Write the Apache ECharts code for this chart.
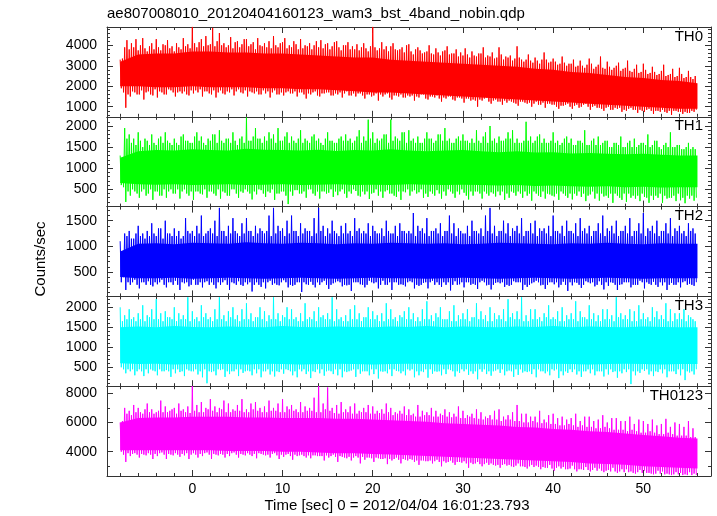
<!DOCTYPE html>
<html><head><meta charset="utf-8">
<script src="https://cdn.jsdelivr.net/npm/echarts@6/dist/echarts.min.js"></script>
<style>html,body{margin:0;padding:0;background:#fff}#c{width:717px;height:516px}</style>
</head><body><div id="c"></div>
<script>
const titleText = 'ae807008010_20120404160123_wam3_bst_4band_nobin.qdp';
const xLabel = 'Time [sec] 0 = 2012/04/04 16:01:23.793';
const yLabel = 'Counts/sec';

// time bins: start and width (sec); each bin has a high and a low excursion
const tStart = -8, dt = 0.25;
// dense core band, sampled every 2 s
const coreStart = -8, coreStep = 2;
const xMin = -9.46, xMax = 57.5;
const xTicks = [0, 10, 20, 30, 40, 50];
const xMinorStep = 2;

const th0Hi = [
  3300,3350,3900,4250, 3800,4100,3900,4300, 3750,4000,4350,3850, 3700,3950,4100,3800, 4300,3900,3750,4050, 4000,4250,3850,3950, 3700,4100,3900,3800, 4350,3950,4050,3850,
  4900,4100,3900,4150, 4300,3950,4450,4000, 4050,4850,3950,4200, 4600,4000,4100,3900, 4000,4400,3850,4150, 4200,3900,4050,4300, 4300,3950,4050,4150, 3800,4350,4000,3950,
  4100,3900,4200,3850, 4450,4000,3900,4100, 4150,4350,3850,4000, 3900,4200,4050,3800, 4300,3850,4000,3950, 4100,3800,4000,4200, 3900,4250,3850,4050, 4100,3800,3950,4150,
  4200,3900,3750,4000, 4000,4150,3800,3950, 3800,4050,3750,3900, 4100,3850,3700,3950, 4900,3900,3750,3850, 4150,3800,3950,3700, 3950,4100,3800,3750, 3800,3900,3650,4000,
  4050,3700,3550,3800, 3900,3750,3600,3650, 3700,4000,3600,3550, 3850,3650,3500,3700, 3750,3950,3550,3600, 3600,3800,3450,3650, 3500,3850,3550,3400, 3700,3500,3450,3600,
  3600,3900,3400,3500, 3450,3650,3350,3400, 3900,3550,3300,3450, 3400,3500,3250,3350, 3950,3400,3300,3200, 3300,3550,3250,3150, 3400,3250,3100,3300, 3650,3300,3150,3200,
  3350,3200,3050,3100, 3450,3150,3000,3100, 3100,3300,2950,3000, 3250,3000,2900,3050, 3350,3100,2850,2950, 3050,3450,2900,2850, 3200,2950,2800,2900, 3000,3150,2750,2850,
  2900,3250,2750,2700, 2850,3050,2650,2700, 3100,2800,2600,2650, 2950,2700,2550,2600, 2750,3050,2500,2550, 2600,2850,2450,2500, 2900,2600,2400,2450, 2750,2450,2350,2500];
const th0Lo = [
  1900,1700,950,1600, 1500,1750,1700,1600, 1600,1800,1350,1700, 1750,1600,1550,1850, 1450,1750,1700,1600, 1600,1850,1800,1700, 1500,1700,1750,1650, 1750,1600,1550,1800,
  1650,1800,1700,1850, 1500,1750,1750,1650, 1600,1800,1450,1700, 1800,1650,1600,1750, 1700,1850,1550,1750, 1850,1700,1650,1800, 1500,1750,1700,1650, 1750,1600,1600,1800,
  1650,1750,1450,1700, 1800,1600,1600,1700, 1550,1700,1750,1650, 1650,1750,1500,1700, 1700,1600,1400,1650, 1600,1700,1750,1550, 1500,1650,1650,1700, 1700,1550,1550,1650,
  1600,1700,1450,1650, 1750,1550,1550,1650, 1500,1650,1650,1550, 1400,1600,1600,1500, 1550,1650,1300,1600, 1500,1600,1650,1450, 1350,1550,1550,1500, 1600,1450,1450,1550,
  1500,1550,1300,1500, 1450,1600,1600,1400, 1350,1500,1500,1450, 1550,1400,1250,1450, 1400,1500,1500,1350, 1300,1450,1450,1400, 1200,1400,1400,1300, 1350,1300,1000,1350,
  1300,1400,1450,1250, 1150,1300,1350,1250, 1250,1100,1300,1200, 1300,1250,1200,1150, 1050,1250,1250,1200, 1150,1200,1000,1150, 1250,1100,1100,1200, 950,1150,1150,1100,
  1100,1000,900,1050, 1050,1100,1150,1000, 900,1050,1100,950, 1000,1100,1150,1000, 850,1000,1050,950, 950,900,800,950, 1000,850,850,950, 900,950,750,850,
  800,900,950,850, 850,700,850,800, 750,850,900,800, 650,800,800,750, 850,750,700,800, 600,800,800,750, 750,650,750,700, 700,800,750,850];
const th0CoreHi = [3200,3550,3600,3600,3700,3700,3650,3650,3600,3600,3550,3500,3450,3400,3400,3300,
  3250,3200,3150,3100,3050,3000,2950,2850,2800,2700,2650,2550,2450,2400,2300,2250,2150];
const th0CoreLo = [2000,2000,1950,1950,2000,1950,1950,1950,1900,1900,1850,1850,1800,1750,1700,1700,
  1650,1600,1550,1500,1450,1400,1350,1300,1250,1200,1150,1100,1050,1000,950,900,900];

const th1Hi = [
  1300,1250,1950,1700, 1800,1600,1700,1550, 1850,1650,1500,1700, 1650,1550,1800,1600, 1550,1700,1750,1600, 1850,1650,1600,1550, 1700,1600,1550,1750, 1800,1650,1650,1600,
  1600,1750,1850,1650, 1750,1600,1550,1700, 1650,1800,1800,1600, 1900,1650,1600,1700, 1700,1600,1850,1650, 1550,1700,1750,1600, 2200,1650,1650,1750, 1950,1700,1700,1600,
  1750,1650,1850,1700, 1800,1600,1950,1650, 1650,1750,1850,1600, 1750,1650,1600,1700, 1900,1600,1700,1650, 1600,1750,1800,1650, 1700,1600,1550,1700, 1850,1650,1650,1600,
  1600,1700,1750,1650, 1800,1650,1700,1600, 1650,1750,1900,1600, 1750,1650,2150,1700, 1850,1600,1700,1650, 1700,1800,1800,1600, 2150,1650,1750,1700, 1650,1850,1850,1600,
  1900,1650,1700,1600, 1750,1600,1600,1700, 1850,1700,1700,1600, 1650,1800,1800,1650, 1950,1650,1700,1600, 1600,1700,1750,1650, 1800,1650,1650,1600, 1700,1600,1900,1650,
  1600,1750,1850,1600, 2000,1650,1700,1600, 1750,1650,1650,1700, 1850,1700,1900,1600, 1700,1600,1600,1650, 2100,1650,1750,1600, 1650,1750,1800,1600, 1700,1600,1600,1650,
  1850,1600,1650,1550, 1600,1700,1750,1600, 1700,1550,1550,1650, 1650,1600,1900,1550, 1550,1650,1700,1550, 1750,1550,1600,1650, 1650,1500,1500,1600, 1600,1550,1750,1500,
  1500,1600,1650,1500, 1700,1500,1550,1600, 1600,1550,1800,1500, 1550,1650,1650,1500, 1450,1550,1600,1500, 1850,1500,1500,1550, 1550,1450,1450,1500, 1600,1450,1500,1450];
const th1Lo = [
  600,550,200,450, 350,500,450,400, 300,450,500,350, 400,500,250,450, 450,350,350,500, 300,450,500,400, 400,500,280,450, 500,400,350,450,
  250,450,450,400, 380,500,300,450, 450,400,350,500, 280,450,420,350, 350,500,500,400, 300,450,420,500, 450,400,260,450, 380,500,480,400,
  320,450,420,500, 250,400,400,450, 450,350,150,450, 350,480,480,400, 400,450,300,500, 500,400,350,450, 280,450,450,400, 420,500,320,450,
  360,450,500,400, 300,450,400,500, 460,350,330,450, 380,450,270,400, 420,500,350,450, 300,450,480,400, 400,350,320,450, 250,450,430,500,
  350,450,480,400, 430,500,300,400, 320,450,400,350, 480,400,280,450, 350,500,450,400, 300,450,380,500, 420,350,260,450, 350,450,450,400,
  280,450,400,350, 430,400,330,450, 360,450,250,400, 300,450,420,350, 450,400,300,450, 350,400,230,450, 400,350,320,450, 280,400,380,350,
  330,400,250,450, 400,350,300,400, 260,400,350,450, 320,400,220,350, 380,450,280,400, 230,400,330,350, 300,400,180,400, 350,300,250,400,
  200,400,300,350, 280,350,220,400, 320,300,180,350, 250,350,300,400, 180,350,280,300, 300,350,220,400, 240,300,170,350, 280,350,230,300];
const th1CoreHi = [1250,1400,1430,1420,1450,1430,1420,1460,1440,1430,1420,1440,1410,1430,1420,1450,
  1420,1400,1420,1430,1400,1380,1400,1370,1380,1350,1360,1340,1330,1340,1320,1300,1300];
const th1CoreLo = [650,620,610,620,600,610,620,600,610,620,600,610,620,600,610,600,
  620,610,600,610,600,590,600,580,590,570,560,570,550,560,540,550,550];

const th2Hi = [
  1100,900,1250,1200, 1300,1150,1150,1250, 1400,1200,1250,1150, 1300,1200,1450,1250, 1200,1350,1350,1150, 1500,1250,1250,1200, 1350,1200,1300,1150, 1200,1550,1300,1250,
  1300,1200,1400,1250, 1600,1200,1250,1300, 1350,1250,1500,1200, 1750,1300,1300,1200, 1400,1250,1550,1300, 1250,1200,1450,1250, 1550,1300,1300,1200, 1400,1250,1350,1300,
  1250,1300,1600,1200, 1750,1250,1400,1300, 1350,1200,1500,1250, 1600,1300,1300,1200, 1450,1250,1350,1300, 1300,1200,1550,1250, 1750,1300,1400,1200, 1350,1250,1500,1300,
  1250,1200,1400,1250, 1450,1250,1300,1200, 1550,1300,1350,1250, 1300,1250,1450,1200, 1400,1300,1250,1250, 1350,1200,1500,1300, 1250,1250,1400,1200, 1450,1300,1300,1250,
  1300,1250,1650,1200, 1400,1300,1350,1250, 1550,1200,1300,1300, 1350,1250,1450,1200, 1300,1300,1600,1250, 1450,1200,1350,1300, 1250,1250,1400,1200, 1500,1300,1300,1250,
  1350,1200,1600,1300, 1750,1250,1400,1200, 1300,1300,1500,1250, 1450,1200,1350,1300, 1400,1250,1550,1200, 1300,1300,1450,1250, 1500,1200,1350,1300, 1350,1250,1400,1200,
  1600,1300,1300,1250, 1400,1200,1500,1300, 1300,1250,1450,1200, 1550,1300,1350,1250, 1400,1200,1300,1300, 1450,1250,1600,1200, 1350,1300,1400,1250, 1500,1200,1300,1300,
  1400,1250,1550,1200, 1300,1300,1450,1250, 1650,1200,1350,1300, 1400,1250,1500,1200, 1300,1300,1450,1250, 1550,1200,1350,1300, 1400,1250,1300,1200, 1450,1300,1350,1250];
const th2Lo = [
  300,400,150,300, 250,300,350,250, 180,300,300,250, 320,250,220,300, 260,300,350,250, 200,300,300,250, 330,250,150,300, 280,300,220,250,
  350,250,250,300, 200,300,320,250, 300,250,180,300, 250,300,340,250, 150,300,280,250, 320,250,230,300, 260,300,120,250, 300,250,210,300,
  180,300,330,250, 280,250,240,300, 340,300,200,250, 230,250,300,300, 110,300,260,250, 310,250,200,300, 250,300,330,250, 170,250,280,300,
  320,300,220,250, 240,250,130,300, 300,300,260,250, 200,250,330,300, 280,300,180,250, 330,250,250,300, 150,300,300,250, 260,250,220,300,
  320,300,180,250, 230,250,290,300, 180,300,330,250, 300,250,210,300, 250,300,140,250, 320,250,260,300, 200,300,300,250, 270,250,170,300,
  330,300,240,250, 160,250,290,300, 280,300,210,250, 230,250,320,300, 300,300,150,250, 210,250,280,300, 330,300,240,250, 170,250,300,300,
  260,300,200,250, 310,250,130,300, 240,300,290,250, 190,250,320,300, 280,300,220,250, 320,250,160,300, 230,300,290,250, 150,250,260,300,
  300,300,200,250, 250,250,330,300, 180,300,270,250, 310,250,210,300, 240,300,150,250, 290,250,250,300, 200,300,320,250, 270,250,230,300];
const th2CoreHi = [900,1050,1060,1040,1070,1060,1050,1080,1060,1050,1070,1060,1040,1060,1050,1070,
  1060,1050,1060,1040,1050,1070,1060,1050,1040,1060,1050,1070,1050,1040,1060,1050,1050];
const th2CoreLo = [400,380,380,390,370,380,390,380,370,380,390,380,370,380,390,380,
  380,370,380,390,380,370,380,390,380,370,380,390,380,370,380,380,380];

const th3Hi = [
  2000,1650,1800,1700, 1950,1700,1750,1650, 1850,1700,2050,1650, 1800,1750,1950,1700, 2200,1700,1850,1650, 1900,1750,1750,1700, 2000,1650,1850,1700, 1800,1700,2250,1650,
  1900,1700,1750,1650, 2050,1750,1850,1700, 1750,1650,1950,1700, 2250,1700,1800,1650, 1900,1750,2000,1700, 1800,1650,1950,1700, 2100,1700,1850,1650, 1750,1750,2000,1700,
  1900,1650,1800,1700, 2250,1700,1850,1650, 1800,1750,2000,1700, 1950,1700,1750,1650, 1850,1650,2100,1700, 1750,1700,1900,1650, 2000,1750,1800,1700, 1850,1700,2250,1650,
  1950,1700,1750,1650, 1800,1650,1950,1700, 2050,1700,1850,1650, 1750,1750,2000,1700, 1900,1700,1800,1650, 1850,1650,2100,1700, 1950,1700,1750,1650, 1800,1750,1900,1700,
  2000,1700,1850,1650, 1750,1650,1950,1700, 2150,1700,1800,1650, 1850,1750,2000,1700, 1700,1700,1900,1650, 2050,1650,1800,1700, 1850,1700,1950,1650, 1750,1750,2100,1700,
  1900,1700,1800,1650, 2000,1650,1850,1700, 1800,1700,1950,1650, 2200,1750,1850,1700, 1900,1700,2250,1650, 1800,1650,1950,1700, 1950,1700,1750,1650, 1850,1750,2050,1700,
  1750,1700,1900,1650, 2000,1650,1800,1700, 1850,1700,2150,1650, 1900,1750,1750,1700, 2050,1700,1850,1650, 1800,1650,1950,1700, 1950,1700,1800,1650, 2250,1750,1850,1700,
  1800,1700,1950,1650, 1900,1650,2050,1700, 1850,1700,1750,1650, 2000,1750,1900,1700, 1800,1700,2100,1650, 1950,1650,1850,1700, 1850,1700,1950,1650, 1800,1750,1700,1650];
const th3Lo = [
  500,450,350,450, 400,450,300,400, 450,400,280,450, 350,450,420,400, 300,450,400,400, 430,400,260,450, 350,450,380,400, 280,450,420,400,
  400,450,320,400, 250,450,100,400, 380,400,300,450, 430,450,260,400, 330,400,400,450, 280,450,360,400, 420,400,300,450, 350,450,250,400,
  400,450,320,400, 270,400,380,450, 340,450,430,400, 300,400,250,450, 400,450,330,400, 230,400,380,450, 350,450,290,400, 420,400,330,450,
  300,450,250,400, 380,400,420,450, 260,450,340,400, 400,400,300,450, 330,450,220,400, 390,400,350,450, 280,450,410,400, 350,400,300,450,
  420,450,250,400, 300,400,380,450, 240,450,340,400, 390,400,300,450, 330,450,430,400, 270,400,360,450, 400,450,310,400, 340,400,200,450,
  390,450,330,400, 290,400,420,450, 360,450,300,400, 420,400,260,450, 310,450,370,400, 380,400,330,450, 250,450,400,400, 350,400,300,450,
  420,450,230,400, 300,400,360,450, 380,450,320,400, 260,400,400,450, 350,450,300,400, 400,400,270,450, 320,450,380,400, 240,400,350,450,
  380,450,80,400, 300,400,360,450, 410,450,320,400, 280,400,380,450, 350,450,250,400, 400,400,330,450, 300,450,180,400, 370,400,320,450];
const th3CoreHi = [1500,1520,1500,1530,1510,1500,1520,1510,1500,1530,1510,1500,1520,1510,1500,1520,
  1510,1530,1500,1520,1510,1500,1520,1510,1530,1500,1520,1510,1500,1520,1510,1500,1500];
const th3CoreLo = [600,580,590,570,580,590,580,570,590,580,570,580,590,580,570,580,
  590,580,570,580,590,580,570,580,590,580,570,580,590,580,570,580,580];

const th0123Hi = [
  6000,6100,7000,6600, 6800,6500,7200,6700, 7000,6700,6600,6900, 7300,6700,6900,6600, 6700,6800,7500,6700, 7100,6700,6800,6900, 7000,6600,7300,6800, 6900,6700,7100,6650,
  8500,6800,7200,6700, 7400,6700,7000,6900, 7600,6800,7100,6700, 7000,6900,7500,6700, 7300,6700,6900,6800, 7200,6800,7600,6700, 6900,6700,7300,6900, 7400,6800,7000,6700,
  7100,6700,7500,6800, 7000,6800,7300,6700, 7600,6700,7100,6900, 7200,6800,6900,6700, 7400,6700,7100,6800, 7000,6800,7700,6700, 8500,6700,7300,6900, 8400,6800,7000,6650,
  7200,6600,7400,6700, 6900,6700,7100,6600, 7300,6600,6800,6700, 7000,6700,7200,6600, 7100,6600,6800,6650, 6900,6600,7300,6700, 7000,6500,6700,6600, 6800,6600,7100,6500,
  6900,6500,6600,6400, 7200,6400,6800,6500, 6700,6500,7000,6400, 6800,6400,6600,6500, 6900,6400,6700,6350, 6600,6400,7100,6300, 6800,6300,6500,6400, 6600,6300,6900,6250,
  6700,6200,6400,6300, 6500,6200,6800,6200, 6900,6100,6400,6200, 6500,6200,6700,6100, 7200,6100,6600,6000, 6600,6000,6400,6100, 6400,6000,6800,5950, 6200,6000,6500,5900,
  6600,5900,6300,5800, 6400,5800,6200,5900, 6300,5800,6600,5700, 6100,5800,6400,5700, 6400,5700,6100,5600, 6200,5600,6500,5700, 6000,5600,6300,5500, 6300,5500,6100,5500,
  6100,5400,6400,5500, 5900,5400,6200,5300, 6100,5300,5900,5400, 6200,5300,5800,5200, 5900,5200,6250,5300, 5700,5200,6000,5100, 5900,5100,5700,5100, 6100,5000,5600,5000];
const th0123Lo = [
  4000,3800,3300,3900, 3700,3850,3900,3800, 3600,3850,3800,3750, 3900,3800,3500,3850, 3700,3900,3950,3800, 3500,3850,3800,3750, 3900,3800,3650,3850, 3750,3900,3500,3800,
  3900,3800,3600,3850, 3700,3900,3950,3800, 3500,3850,3800,3750, 3850,3800,3600,3850, 3700,3900,3950,3800, 3600,3850,3800,3750, 3900,3800,3700,3850, 3550,3900,3850,3800,
  3750,3800,3600,3850, 3900,3750,3500,3800, 3650,3800,3850,3700, 3450,3800,3700,3750, 3800,3700,3600,3750, 3550,3750,3750,3700, 3700,3700,3400,3750, 3600,3700,3800,3650,
  3300,3700,3650,3600, 3550,3650,3400,3600, 3700,3600,3200,3650, 3450,3600,3600,3550, 3300,3600,3550,3500, 3500,3550,3150,3500, 3400,3500,3600,3450, 3200,3500,3450,3400,
  3500,3450,3300,3400, 3100,3400,3400,3350, 3350,3400,3200,3350, 3450,3300,3000,3350, 3250,3300,3400,3250, 3100,3300,3300,3250, 3350,3200,2900,3250, 3150,3200,3300,3150,
  3000,3150,3250,3100, 3200,3100,3050,3100, 2900,3100,3150,3050, 3100,3000,2950,3050, 3200,3000,3000,2950, 2850,3000,3100,2950, 3050,2950,2800,2950, 2900,2900,3100,2850,
  2700,2900,3000,2850, 2950,2800,2800,2850, 3050,2800,2650,2800, 2800,2750,2950,2750, 2650,2750,2900,2700, 2850,2700,2600,2700, 2750,2650,2900,2650, 2550,2650,2800,2600,
  2800,2600,2650,2550, 2500,2600,2750,2550, 2700,2550,2550,2500, 2450,2500,2700,2500, 2650,2450,2500,2450, 2400,2450,2600,2450, 2550,2400,2450,2400, 2600,2400,2500,2400];
const th0123CoreHi = [6000,6300,6350,6350,6400,6400,6400,6350,6350,6300,6300,6300,6250,6250,6200,6150,
  6100,6050,5950,5900,5850,5800,5700,5650,5550,5500,5400,5350,5250,5150,5050,4950,4900];
const th0123CoreLo = [4100,4100,4100,4100,4100,4100,4050,4050,4050,4000,4000,3950,3900,3900,3850,3800,
  3750,3700,3650,3600,3550,3500,3450,3400,3350,3300,3200,3150,3100,3000,2950,2900,2850];

const bandNames = ['TH0', 'TH1', 'TH2', 'TH3', 'TH0123'];
const bandColors = ['#ff0000', '#00ff00', '#0000ff', '#00ffff', '#ff00ff'];
const bandHi = [th0Hi, th1Hi, th2Hi, th3Hi, th0123Hi];
const bandLo = [th0Lo, th1Lo, th2Lo, th3Lo, th0123Lo];
const coreHi = [th0CoreHi, th1CoreHi, th2CoreHi, th3CoreHi, th0123CoreHi];
const coreLo = [th0CoreLo, th1CoreLo, th2CoreLo, th3CoreLo, th0123CoreLo];
const yRanges = [[507, 4894], [90, 2218], [24, 1775], [27, 2272], [2336, 8486]];
const th0Ticks = [1000, 2000, 3000, 4000];
const th1Ticks = [500, 1000, 1500, 2000];
const th2Ticks = [500, 1000, 1500];
const th3Ticks = [500, 1000, 1500, 2000];
const th0123Ticks = [4000, 6000, 8000];
const yTicks = [th0Ticks, th1Ticks, th2Ticks, th3Ticks, th0123Ticks];
const yMinorSteps = [200, 100, 100, 100, 1000];

// ---- layout ----
const W = 717, plotLeft = 107, plotRight = 711, plotTop = 27, plotBottom = 476;
const panelH = (plotBottom - plotTop) / 5;
const font = '"Liberation Sans", Arial, Helvetica, sans-serif';
const axisColor = '#333';

function minorList(lo, hi, step, majors) {
  const out = [];
  for (let v = Math.ceil(lo / step) * step; v <= hi; v += step) {
    if (majors.indexOf(v) < 0) out.push(v);
  }
  return out;
}
const xMinor = minorList(-8, 56, xMinorStep, xTicks);

const grids = [], xAxes = [], yAxes = [], series = [];
const titles = [{
  text: titleText, left: plotLeft, top: 6, padding: 0,
  textStyle: { fontFamily: font, fontSize: 15, fontWeight: 'normal', color: '#000' }
}];

bandNames.forEach((name, k) => {
  const top = plotTop + k * panelH;
  grids.push({ left: plotLeft, right: W - plotRight, top: top, height: panelH });
  const xi = xAxes.length, yi = yAxes.length;
  const mkX = (pos, vals, len, main, labels) => ({
    type: 'value', gridIndex: k, position: pos, min: xMin, max: xMax,
    axisLine: { show: main, onZero: false, lineStyle: { color: axisColor, width: 1 } },
    axisTick: { show: true, inside: true, length: len, customValues: vals, lineStyle: { color: axisColor, width: 1 } },
    axisLabel: labels ? { show: true, customValues: xTicks, formatter: v => String(v), color: '#000', fontFamily: font, fontSize: 14, margin: 6 } : { show: false },
    splitLine: { show: false }
  });
  xAxes.push(mkX('bottom', xTicks, 6, true, k === 4));
  xAxes.push(mkX('bottom', xMinor, 3, false, false));
  xAxes.push(mkX('top', xTicks, 6, true, false));
  xAxes.push(mkX('top', xMinor, 3, false, false));
  const r = yRanges[k];
  const yMinor = minorList(r[0], r[1], yMinorSteps[k], yTicks[k]);
  const mkY = (pos, vals, len, main, labels) => ({
    type: 'value', gridIndex: k, position: pos, min: r[0], max: r[1],
    axisLine: { show: main, onZero: false, lineStyle: { color: axisColor, width: 1 } },
    axisTick: { show: true, inside: true, length: len, customValues: vals, lineStyle: { color: axisColor, width: 1 } },
    axisLabel: labels ? { show: true, customValues: yTicks[k], formatter: v => String(v), color: '#000', fontFamily: font, fontSize: 14, margin: 10 } : { show: false },
    splitLine: { show: false }
  });
  yAxes.push(mkY('left', yTicks[k], 6, true, true));
  yAxes.push(mkY('left', yMinor, 3, false, false));
  yAxes.push(mkY('right', yTicks[k], 6, true, false));
  yAxes.push(mkY('right', yMinor, 3, false, false));

  const cHi = coreHi[k], cLo = coreLo[k];
  series.push({
    type: 'custom', xAxisIndex: xi, yAxisIndex: yi, data: [[coreStart, cLo[0]]],
    silent: true, animation: false, z: 1,
    renderItem: (params, api) => {
      const pts = [];
      for (let i = 0; i < cHi.length; i++) pts.push(api.coord([coreStart + i * coreStep, cHi[i]]));
      for (let i = cLo.length - 1; i >= 0; i--) pts.push(api.coord([coreStart + i * coreStep, cLo[i]]));
      return { type: 'polygon', shape: { points: pts }, style: { fill: bandColors[k] } };
    }
  });

  const hi = bandHi[k], lo = bandLo[k];
  const data = [];
  for (let i = 0; i < hi.length; i++) {
    const t = tStart + i * dt;
    data.push([t, hi[i]]);
    data.push([t + dt / 2, lo[i]]);
  }
  series.push({
    type: 'line', xAxisIndex: xi, yAxisIndex: yi, data: data,
    showSymbol: false, symbol: 'none', silent: true, animation: false, clip: true,
    lineStyle: { color: bandColors[k], width: 1 }, z: 2
  });
  titles.push({
    text: name, right: W - 703, top: top + 2, padding: 0,
    textStyle: { fontFamily: font, fontSize: 15, fontWeight: 'normal', color: '#000' }
  });
});

const chart = echarts.init(document.getElementById('c'), null, { renderer: 'canvas' });
chart.setOption({
  animation: false,
  backgroundColor: '#fff',
  title: titles,
  grid: grids,
  xAxis: xAxes,
  yAxis: yAxes,
  series: series,
  graphic: [
    { type: 'text', x: 41, y: 259, rotation: Math.PI / 2,
      style: { text: yLabel, font: '15px ' + font, fill: '#000', align: 'center', verticalAlign: 'middle' } },
    { type: 'text', x: 397, y: 506,
      style: { text: xLabel, font: '15px ' + font, fill: '#000', align: 'center', verticalAlign: 'middle' } }
  ]
});
</script>
</body></html>
